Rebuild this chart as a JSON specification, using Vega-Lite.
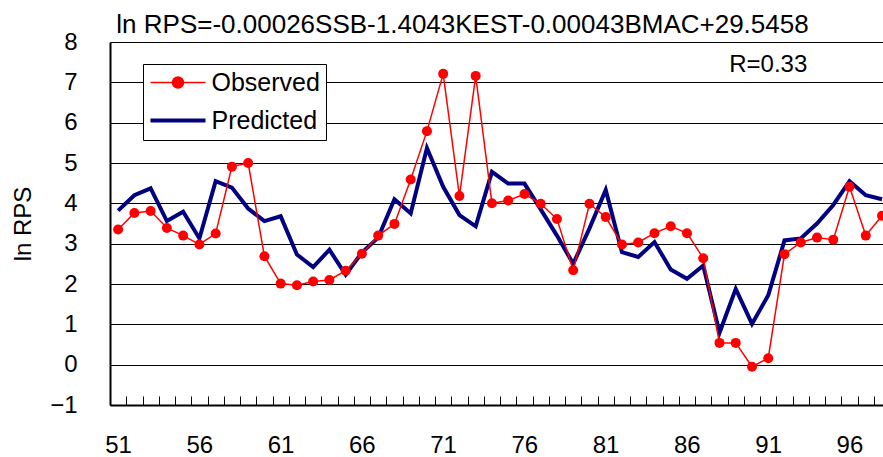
{
  "$schema": "https://vega.github.io/schema/vega-lite/v6.json",
  "width": 773,
  "height": 363,
  "autosize": {"type": "none"},
  "padding": {"left": 110, "top": 42, "right": 0, "bottom": 52},
  "background": "white",
  "title": {
    "text": "ln RPS=-0.00026SSB-1.4043KEST-0.00043BMAC+29.5458",
    "anchor": "middle",
    "dx": -34,
    "dy": 14,
    "fontSize": 26,
    "font": "Liberation Sans",
    "fontWeight": "normal",
    "color": "#000000",
    "offset": 6
  },
  "config": {
    "view": {"stroke": null},
    "font": "Liberation Sans"
  },
  "datasets": {
    "rps": [
      {"year": 51, "Observed": 3.35, "Predicted": 3.82},
      {"year": 52, "Observed": 3.76, "Predicted": 4.2},
      {"year": 53, "Observed": 3.81, "Predicted": 4.37},
      {"year": 54, "Observed": 3.39, "Predicted": 3.56},
      {"year": 55, "Observed": 3.2, "Predicted": 3.79},
      {"year": 56, "Observed": 2.98, "Predicted": 3.13},
      {"year": 57, "Observed": 3.25, "Predicted": 4.55},
      {"year": 58, "Observed": 4.91, "Predicted": 4.39},
      {"year": 59, "Observed": 5.0, "Predicted": 3.87},
      {"year": 60, "Observed": 2.69, "Predicted": 3.56},
      {"year": 61, "Observed": 2.01, "Predicted": 3.68},
      {"year": 62, "Observed": 1.97, "Predicted": 2.73},
      {"year": 63, "Observed": 2.06, "Predicted": 2.42},
      {"year": 64, "Observed": 2.1, "Predicted": 2.85},
      {"year": 65, "Observed": 2.33, "Predicted": 2.23},
      {"year": 66, "Observed": 2.75, "Predicted": 2.78},
      {"year": 67, "Observed": 3.2, "Predicted": 3.15},
      {"year": 68, "Observed": 3.49, "Predicted": 4.1},
      {"year": 69, "Observed": 4.59, "Predicted": 3.75},
      {"year": 70, "Observed": 5.79, "Predicted": 5.37},
      {"year": 71, "Observed": 7.21, "Predicted": 4.41},
      {"year": 72, "Observed": 4.18, "Predicted": 3.71},
      {"year": 73, "Observed": 7.16, "Predicted": 3.43},
      {"year": 74, "Observed": 4.0, "Predicted": 4.78},
      {"year": 75, "Observed": 4.07, "Predicted": 4.49},
      {"year": 76, "Observed": 4.23, "Predicted": 4.49},
      {"year": 77, "Observed": 3.99, "Predicted": 3.85},
      {"year": 78, "Observed": 3.61, "Predicted": 3.2},
      {"year": 79, "Observed": 2.34, "Predicted": 2.5},
      {"year": 80, "Observed": 3.99, "Predicted": 3.38},
      {"year": 81, "Observed": 3.66, "Predicted": 4.33},
      {"year": 82, "Observed": 2.98, "Predicted": 2.79},
      {"year": 83, "Observed": 3.03, "Predicted": 2.67},
      {"year": 84, "Observed": 3.26, "Predicted": 3.04},
      {"year": 85, "Observed": 3.43, "Predicted": 2.36},
      {"year": 86, "Observed": 3.26, "Predicted": 2.13},
      {"year": 87, "Observed": 2.64, "Predicted": 2.46},
      {"year": 88, "Observed": 0.54, "Predicted": 0.79},
      {"year": 89, "Observed": 0.54, "Predicted": 1.88},
      {"year": 90, "Observed": -0.05, "Predicted": 1.01},
      {"year": 91, "Observed": 0.16, "Predicted": 1.72},
      {"year": 92, "Observed": 2.74, "Predicted": 3.08},
      {"year": 93, "Observed": 3.03, "Predicted": 3.13},
      {"year": 94, "Observed": 3.15, "Predicted": 3.5},
      {"year": 95, "Observed": 3.1, "Predicted": 3.96},
      {"year": 96, "Observed": 4.41, "Predicted": 4.55},
      {"year": 97, "Observed": 3.2, "Predicted": 4.2},
      {"year": 98, "Observed": 3.69, "Predicted": 4.1}
    ],
    "note": [{"label": "R=0.33", "year": 91.0, "value": 7.44}]
  },
  "encoding": {
    "x": {
      "field": "year",
      "type": "quantitative",
      "scale": {"domain": [50.5, 98.06], "nice": false, "zero": false},
      "axis": {
        "title": null,
        "grid": false,
        "values": [50.5, 51.5, 52.5, 53.5, 54.5, 55.5, 56.5, 57.5, 58.5, 59.5, 60.5, 61.5, 62.5, 63.5, 64.5, 65.5, 66.5, 67.5, 68.5, 69.5, 70.5, 71.5, 72.5, 73.5, 74.5, 75.5, 76.5, 77.5, 78.5, 79.5, 80.5, 81.5, 82.5, 83.5, 84.5, 85.5, 86.5, 87.5, 88.5, 89.5, 90.5, 91.5, 92.5, 93.5, 94.5, 95.5, 96.5, 97.5],
        "labelExpr": "(datum.value - 0.5) % 5 == 0 ? format(datum.value + 0.5, 'd') : ''",
        "labelOffset": 8,
        "labelOverlap": false,
        "labelFlush": false,
        "labelFontSize": 24,
        "labelColor": "#000000",
        "labelFont": "Liberation Sans",
        "labelPadding": 37,
        "tickSize": -9,
        "tickColor": "#000000",
        "tickWidth": 1,
        "domainColor": "#000000",
        "domainWidth": 2
      }
    },
    "y": {
      "field": "value",
      "type": "quantitative",
      "scale": {"domain": [-1, 8], "nice": false, "zero": false},
      "axis": {
        "title": "ln RPS",
        "titleFontSize": 24,
        "titleFontWeight": "normal",
        "titleColor": "#000000",
        "titleFont": "Liberation Sans",
        "titlePadding": 14,
        "values": [-1, 0, 1, 2, 3, 4, 5, 6, 7, 8],
        "labelFontSize": 24,
        "labelColor": "#000000",
        "labelFont": "Liberation Sans",
        "labelPadding": 33,
        "ticks": false,
        "grid": true,
        "gridColor": "#000000",
        "gridWidth": 1,
        "domainColor": "#000000",
        "domainWidth": 2
      }
    }
  },
  "layer": [
    {
      "data": {"name": "rps"},
      "transform": [
        {"fold": ["Observed", "Predicted"], "as": ["series", "value"]},
        {"filter": "datum.series === 'Predicted'"}
      ],
      "mark": {"type": "line", "strokeWidth": 4, "strokeJoin": "miter"},
      "encoding": {
        "color": {
          "field": "series",
          "type": "nominal",
          "scale": {"domain": ["Observed", "Predicted"], "range": ["#FF0000", "#000080"]},
          "legend": {
            "title": null,
            "orient": "none",
            "legendX": 33,
            "legendY": 22,
            "direction": "vertical",
            "fillColor": "#FFFFFF",
            "strokeColor": "#000000",
            "padding": 6,
            "labelFontSize": 25,
            "labelColor": "#000000",
            "labelFont": "Liberation Sans",
            "labelOffset": 21,
            "symbolOffset": 16.5,
            "rowPadding": 12,
            "symbolSize": 3025,
            "symbolType": "stroke",
            "encode": {
              "symbols": {
                "update": {
                  "shape": {"signal": "datum.value === 'Observed' ? 'M-1,0H1M0.2,0A0.2,0.2,0,1,1,-0.2,0A0.2,0.2,0,1,1,0.2,0Z' : 'M-1,0H1'"},
                  "strokeWidth": {"signal": "datum.value === 'Observed' ? 1.5 : 4"},
                  "fill": {"signal": "datum.value === 'Observed' ? '#FF0000' : 'transparent'"}
                }
              }
            }
          }
        }
      }
    },
    {
      "data": {"name": "rps"},
      "transform": [
        {"fold": ["Observed", "Predicted"], "as": ["series", "value"]},
        {"filter": "datum.series === 'Observed'"}
      ],
      "mark": {"type": "line", "strokeWidth": 1.5},
      "encoding": {
        "color": {"field": "series", "type": "nominal"}
      }
    },
    {
      "data": {"name": "rps"},
      "transform": [
        {"fold": ["Observed", "Predicted"], "as": ["series", "value"]},
        {"filter": "datum.series === 'Observed'"}
      ],
      "mark": {"type": "circle", "size": 100, "opacity": 1, "color": "#FF0000"},
      "encoding": {}
    },
    {
      "data": {"name": "note"},
      "mark": {"type": "text", "fontSize": 24, "font": "Liberation Sans", "color": "#000000", "align": "center", "baseline": "middle"},
      "encoding": {
        "text": {"field": "label", "type": "nominal"}
      }
    }
  ]
}
